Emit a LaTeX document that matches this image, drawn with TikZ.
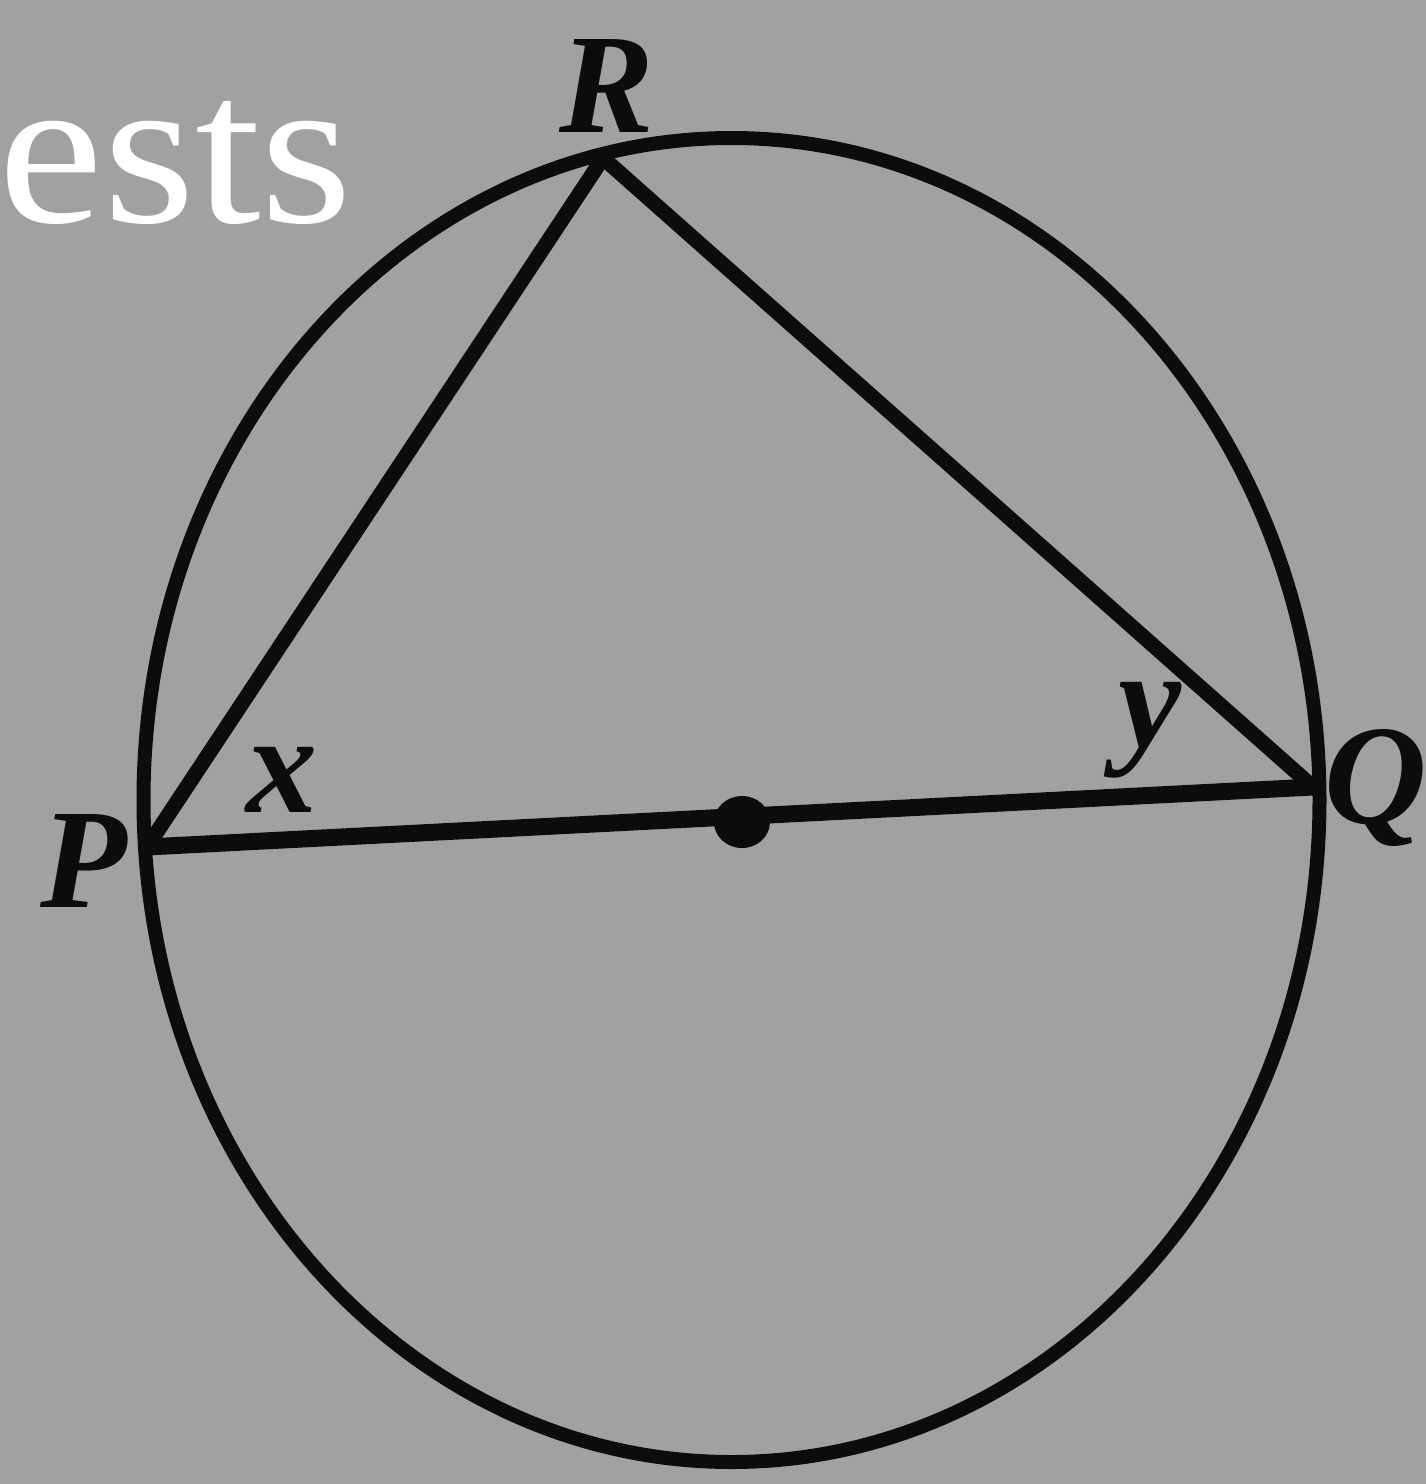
\documentclass[tikz,border=0pt]{standalone}
\usepackage{fontspec}
\setmainfont{Liberation Serif}
\newfontfamily\timesfont{Liberation Serif}
\definecolor{paper}{RGB}{162,161,159}
\definecolor{ink}{RGB}{12,12,12}
\tikzset{
  lbl/.style={inner sep=0pt, anchor=base, text=ink, font=\timesfont\fontsize{142}{142}\selectfont\bfseries\itshape},
  curve/.style={draw=ink, line width=14pt},
  chord/.style={draw=ink, line width=15pt, line cap=round, line join=round},
  diam/.style={draw=ink, line width=17pt, line cap=round}
}
\begin{document}
\begin{tikzpicture}[x=1pt,y=-1pt]
\fill[paper] (0,0) rectangle (1426,1484);
\useasboundingbox (0,0) rectangle (1426,1484);
\node[inner sep=0pt, anchor=base west, text=white, xscale=1.1, font=\timesfont\fontsize{215}{215}\selectfont] (title) at (-2,222) {ests};
\coordinate (C) at (731.5,800);
\coordinate (P) at (147,847);
\coordinate (Q) at (1313,787);
\coordinate (R) at (603,158);
\coordinate (O) at (742,822);
\draw[curve] (C) ellipse [x radius=588, y radius=662];
\draw[chord] (P) -- (R);
\draw[chord] (R) -- (Q);
\draw[diam] (P) -- (Q);
\fill[ink] (O) ellipse [x radius=28, y radius=26];
\node[lbl] (lR) at (607,132) {R};
\node[lbl] (lP) at (84,907) {P};
\node[lbl] (lQ) at (1376,823) {Q};
\node[lbl] (lx) at (282,812) {x};
\node[lbl] (ly) at (1150,747) {y};
\end{tikzpicture}
\end{document}
